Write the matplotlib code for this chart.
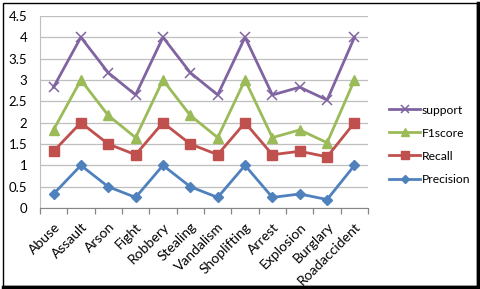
import matplotlib.pyplot as plt
import matplotlib.patches as patches

categories = ['Abuse', 'Assault', 'Arson', 'Fight', 'Robbery', 'Stealing', 'Vandalism',
              'Shoplifting', 'Arrest', 'Explosion', 'Burglary', 'Roadaccident']

# stacked values as plotted
precision = [0.33, 1.0, 0.5, 0.25, 1.0, 0.5, 0.25, 1.0, 0.25, 0.33, 0.2, 1.0]
recall = [1.33, 2.0, 1.5, 1.25, 2.0, 1.5, 1.25, 2.0, 1.25, 1.33, 1.2, 2.0]
f1score = [1.83, 3.0, 2.17, 1.65, 3.0, 2.17, 1.65, 3.0, 1.65, 1.83, 1.53, 3.0]
support = [2.83, 4.0, 3.17, 2.65, 4.0, 3.17, 2.65, 4.0, 2.65, 2.83, 2.53, 4.0]

plt.rcParams['font.family'] = ['Lato', 'DejaVu Sans']

fig = plt.figure(figsize=(4.8, 2.89), dpi=100)
ax = fig.add_axes([0.083, 0.28, 0.684, 0.665])

x = range(len(categories))
ax.plot(x, support, color='#8064A2', lw=2, marker='x', ms=7, mew=1.1, label='support')
ax.plot(x, f1score, color='#9BBB59', lw=2, marker='^', ms=7, label='F1score')
ax.plot(x, recall, color='#C0504D', lw=2, marker='s', ms=6.5, label='Recall')
ax.plot(x, precision, color='#4F81BD', lw=2, marker='D', ms=5, label='Precision')

ax.set_xlim(-0.5, len(categories) - 0.5)
ax.set_ylim(0, 4.5)
ax.set_yticks([0, 0.5, 1, 1.5, 2, 2.5, 3, 3.5, 4, 4.5])
ax.set_yticklabels(['0', '0.5', '1', '1.5', '2', '2.5', '3', '3.5', '4', '4.5'], fontsize=9.5)
ax.yaxis.grid(True, color='#BFBFBF', lw=0.9)
ax.set_axisbelow(True)
ax.tick_params(axis='y', length=0, pad=9)

ax.set_xticks(list(x))
ax.set_xticklabels(categories, rotation=45, ha='right', rotation_mode='anchor', fontsize=10)
ax.tick_params(axis='x', length=0, pad=9)
ax.set_xticks([i - 0.5 for i in range(len(categories) + 1)], minor=True)
ax.tick_params(axis='x', which='minor', length=4, color='#868686', width=0.9)

for s in ['top', 'right']:
    ax.spines[s].set_visible(False)
ax.spines['left'].set_color('#BFBFBF')
ax.spines['bottom'].set_color('#868686')

ax.legend(loc='center left', bbox_to_anchor=(1.03, 0.33), frameon=False, fontsize=8.7,
          handlelength=2.6, handletextpad=0.1, labelspacing=1.0, markerscale=0.8)

# outer chart frame with a heavier bottom/right edge
fig.patches.append(patches.Rectangle((0.006, 0.01), 0.988, 0.98, transform=fig.transFigure,
                                     fill=False, edgecolor='black', lw=1))
fig.add_artist(plt.Line2D([0.006, 0.996], [0.006, 0.006], color='black', lw=2.5))
fig.add_artist(plt.Line2D([0.996, 0.996], [0.006, 0.99], color='black', lw=2.5))

plt.savefig('out.png')
